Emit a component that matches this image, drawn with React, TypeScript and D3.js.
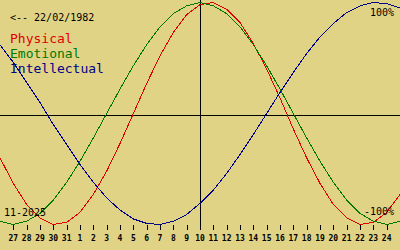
import React from "react";
import * as d3 from "d3";

const dayLabels = ["26","27","28","29","30","31","1","2","3","4","5","6","7","8","9","10","11","12","13","14","15","16","17","18","19","20","21","22","23","24","25"];
const physical = [-0.40,-0.63,-0.82,-0.94,-1.00,-0.98,-0.89,-0.73,-0.52,-0.27,0.00,0.27,0.52,0.73,0.89,0.98,1.00,0.94,0.82,0.63,0.40,0.14,-0.14,-0.40,-0.63,-0.82,-0.94,-1.00,-0.98,-0.89,-0.73];
const emotional = [-0.97,-1.00,-0.97,-0.90,-0.78,-0.62,-0.43,-0.22,0.00,0.22,0.43,0.62,0.78,0.90,0.97,1.00,0.97,0.90,0.78,0.62,0.43,0.22,0.00,-0.22,-0.43,-0.62,-0.78,-0.90,-0.97,-1.00,-0.97];
const intellectual = [0.62,0.46,0.28,0.10,-0.10,-0.28,-0.46,-0.62,-0.76,-0.87,-0.95,-0.99,-1.00,-0.97,-0.91,-0.81,-0.69,-0.54,-0.37,-0.19,0.00,0.19,0.37,0.54,0.69,0.81,0.91,0.97,1.00,0.99,0.95];
const todayIndex = 15;
const birthLabel = "<-- 22/02/1982";
const monthLabel = "11-2025";
const seriesNames = ["Physical", "Emotional", "Intellectual"];
const seriesColors = ["#e00000", "#007800", "#000088"];

export default function App() {
  const W = 400, H = 250;
  const x = d3.scaleLinear().domain([0, dayLabels.length - 1]).range([0, 400]);
  const y = d3.scaleLinear().domain([-1, 1]).range([224.5, 2.5]);
  const line = d3.line<number>().x((_, i) => x(i)).y((v) => y(v));
  const series = [physical, emotional, intellectual];
  const mono = "'DejaVu Sans Mono', monospace";
  const tx = x(todayIndex);
  return (
    <svg width={W} height={H} style={{ position: "absolute", left: 0, top: 0, display: "block" }}>
      <rect x={0} y={0} width={W} height={H} fill="#e1d385" />
      <line x1={0} x2={W} y1={115.5} y2={115.5} stroke="#000" strokeWidth={1} shapeRendering="crispEdges" />
      <line x1={tx + 0.5} x2={tx + 0.5} y1={0} y2={229} stroke="#000" strokeWidth={1} shapeRendering="crispEdges" />
      {series.map((s, k) => (
        <path key={k} d={line(s) || ""} fill="none" stroke={seriesColors[k]} strokeWidth={1} shapeRendering="crispEdges" />
      ))}
      {dayLabels.map((d, i) =>
        i === 0 || i === dayLabels.length - 1 ? null : (
          <g key={i}>
            <line x1={Math.round(x(i)) + 0.5} x2={Math.round(x(i)) + 0.5} y1={225} y2={230} stroke="#000" strokeWidth={1} shapeRendering="crispEdges" />
            <text x={x(i)} y={241} textAnchor="middle" fontFamily={mono} fontSize={8} fontWeight="bold" fill="#000">{d}</text>
          </g>
        )
      )}
      <text x={10} y={21} fontFamily={mono} fontSize={10} fill="#000">{birthLabel}</text>
      {seriesNames.map((n, k) => (
        <text key={n} x={10} y={43 + k * 15} fontFamily={mono} fontSize={13} fill={seriesColors[k]}>{n}</text>
      ))}
      <text x={394} y={16} textAnchor="end" fontFamily={mono} fontSize={10} fill="#000">100%</text>
      <text x={394} y={215} textAnchor="end" fontFamily={mono} fontSize={10} fill="#000">-100%</text>
      <text x={4} y={216} fontFamily={mono} fontSize={10} fill="#000">{monthLabel}</text>
    </svg>
  );
}
